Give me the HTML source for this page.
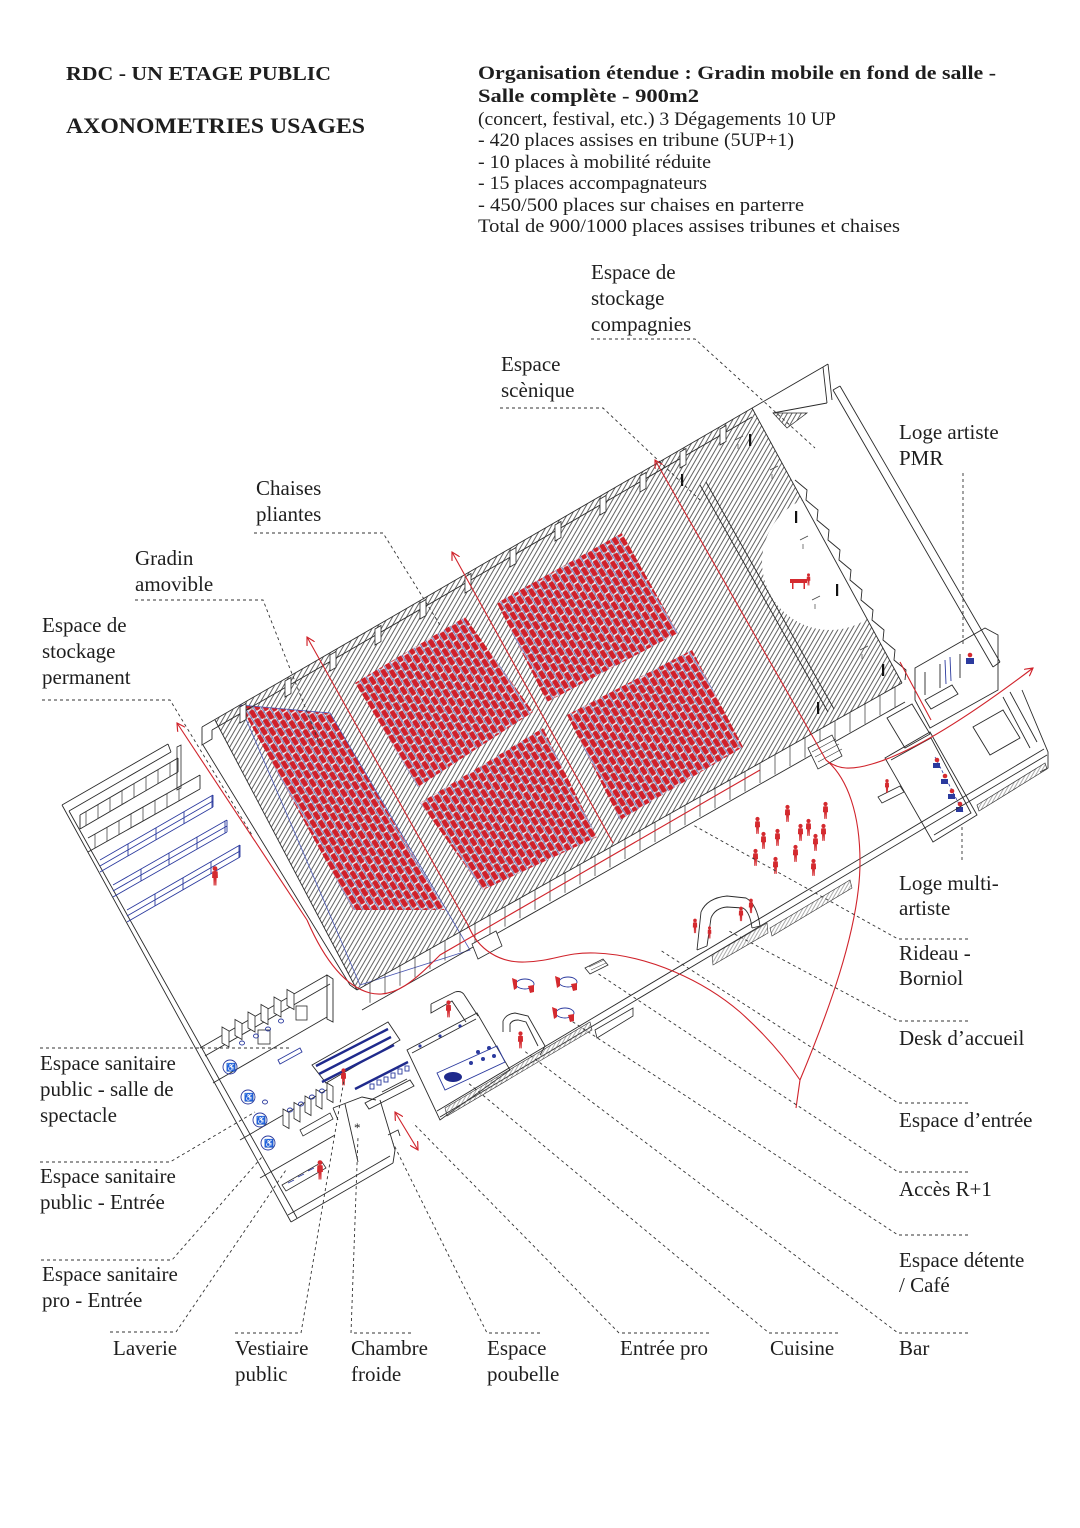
<!DOCTYPE html>
<html><head><meta charset="utf-8"><title>RDC - Axonometries usages</title>
<style>
html,body{margin:0;padding:0;background:#fff;width:1080px;height:1528px;overflow:hidden}
svg{display:block}
text{font-family:"Liberation Serif","DejaVu Serif",serif;fill:#1e1e1e}
.lb{font-size:21px}
.hd{font-size:18.5px}
.hb{font-size:19px;font-weight:bold}
.w{fill:none;stroke:#2a2a2a;stroke-width:0.9}
.wt{fill:#fff;stroke:#2a2a2a;stroke-width:0.8}
.ld{fill:none;stroke:#333;stroke-width:0.9;stroke-dasharray:3 3}
.rd{fill:none;stroke:#d0232b;stroke-width:1.1}
.bl{fill:none;stroke:#2b3a9e;stroke-width:0.9}
.bk{fill:none;stroke:#1f2a8c;stroke-width:2.4}
</style></head><body>
<svg width="1080" height="1528" viewBox="0 0 1080 1528" xmlns="http://www.w3.org/2000/svg">
<defs>
 <pattern id="hatch" width="4" height="10" patternUnits="userSpaceOnUse" patternTransform="rotate(30)">
  <line x1="0.5" y1="0" x2="0.5" y2="10" stroke="#2e2e2e" stroke-width="0.75"/>
 </pattern>
 <pattern id="seat" width="10" height="14" patternUnits="userSpaceOnUse" patternTransform="rotate(58)">
  <rect x="0" y="0" width="10" height="14" fill="#e8eaf4" fill-opacity="0.45"/>
  <rect x="0.3" y="0.3" width="8.6" height="4.9" rx="1.3" fill="#d0202a"/>
  <rect x="5.3" y="7.3" width="8.6" height="4.9" rx="1.3" fill="#d0202a"/>
  <rect x="-4.7" y="7.3" width="8.6" height="4.9" rx="1.3" fill="#d0202a"/>
  <line x1="0" y1="6.2" x2="10" y2="6.2" stroke="#5863b5" stroke-width="0.8"/>
  <line x1="0" y1="13.2" x2="10" y2="13.2" stroke="#5863b5" stroke-width="0.8"/>
 </pattern>
 <pattern id="glass" width="3" height="6" patternUnits="userSpaceOnUse" patternTransform="rotate(30)">
  <line x1="0.5" y1="0" x2="0.5" y2="6" stroke="#777" stroke-width="0.6"/>
 </pattern>
 <clipPath id="hallclip"><polygon points="215,720 752,408 902,683 357,990"/></clipPath>
 <symbol id="pp" viewBox="0 0 8 20">
  <circle cx="4" cy="2.6" r="2.4" fill="#d42a2f"/>
  <path d="M1.3,5.5 Q4,4.6 6.7,5.5 L6.9,12 L5.6,12 L5.4,19.5 L4.3,19.5 L4,13 L3.7,19.5 L2.6,19.5 L2.4,12 L1.1,12 Z" fill="#d42a2f"/>
 </symbol>
 <marker id="ah" viewBox="0 0 10 10" refX="9" refY="5" markerWidth="9" markerHeight="9" markerUnits="userSpaceOnUse" orient="auto">
  <path d="M0,0 L9,5 L0,10" fill="none" stroke="#d0232b" stroke-width="1.3"/>
 </marker>
 <marker id="ah2" viewBox="0 0 10 10" refX="9" refY="5" markerWidth="9" markerHeight="9" markerUnits="userSpaceOnUse" orient="auto-start-reverse">
  <path d="M0,0 L9,5 L0,10" fill="none" stroke="#d0232b" stroke-width="1.3"/>
 </marker>
</defs>

<rect width="1080" height="1528" fill="#fff"/>

<!-- ============ HEADER TEXT ============ -->
<text x="66" y="80" font-size="20" font-weight="bold" textLength="265" lengthAdjust="spacingAndGlyphs">RDC - UN ETAGE PUBLIC</text>
<text x="66" y="133" font-size="22" font-weight="bold" textLength="299" lengthAdjust="spacingAndGlyphs">AXONOMETRIES USAGES</text>
<text x="478" y="79" class="hb" textLength="518" lengthAdjust="spacingAndGlyphs">Organisation étendue : Gradin mobile en fond de salle -</text>
<text x="478" y="102" class="hb" textLength="221" lengthAdjust="spacingAndGlyphs">Salle complète - 900m2</text>
<text x="478" y="125" class="hd" textLength="358" lengthAdjust="spacingAndGlyphs">(concert, festival, etc.) 3 Dégagements 10 UP</text>
<text x="478" y="146" class="hd" textLength="316" lengthAdjust="spacingAndGlyphs">- 420 places assises en tribune (5UP+1)</text>
<text x="478" y="168" class="hd" textLength="233" lengthAdjust="spacingAndGlyphs">- 10 places à mobilité réduite</text>
<text x="478" y="189" class="hd" textLength="229" lengthAdjust="spacingAndGlyphs">- 15 places accompagnateurs</text>
<text x="478" y="211" class="hd" textLength="326" lengthAdjust="spacingAndGlyphs">- 450/500 places sur chaises en parterre</text>
<text x="478" y="232" class="hd" textLength="422" lengthAdjust="spacingAndGlyphs">Total de 900/1000 places assises tribunes et chaises</text>

<!-- ============ HALL FLOOR (hatched) ============ -->
<polygon points="215,720 752,408 902,683 357,990" fill="url(#hatch)"/>
<circle cx="830" cy="562" r="68" fill="#fff" clip-path="url(#hallclip)"/>
<polygon points="773,413 807,413 787,428" fill="url(#hatch)" stroke="#2a2a2a" stroke-width="0.7"/>

<!-- seating blocks -->
<polygon points="240,705 330,713 445,910 353,910" fill="url(#seat)"/>
<polygon points="240,705 330,713 470,950 360,985" fill="none" stroke="#4b58b3" stroke-width="0.8"/>
<polygon points="355,683 465,617 533,712 418,787" fill="url(#seat)"/>
<polygon points="497,603 622,533 678,633 547,702" fill="url(#seat)"/>
<polygon points="420,803 543,728 597,837 483,890" fill="url(#seat)"/>
<polygon points="567,715 692,650 743,747 620,820" fill="url(#seat)"/>

<!-- ============ WALLS : HALL ============ -->
<path class="w" d="M202,727 L823,367 M212,730 L752,417 M202,727 L202,745 L212,739 L212,730"/>
<g class="wt">
 <path d="M240,707 v16 l6,-3.5 v-16 z"/>
 <path d="M285,681 v16 l6,-3.5 v-16 z"/>
 <path d="M330,655 v16 l6,-3.5 v-16 z"/>
 <path d="M375,629 v16 l6,-3.5 v-16 z"/>
 <path d="M420,603 v16 l6,-3.5 v-16 z"/>
 <path d="M465,577 v16 l6,-3.5 v-16 z"/>
 <path d="M510,551 v16 l6,-3.5 v-16 z"/>
 <path d="M555,525 v16 l6,-3.5 v-16 z"/>
 <path d="M600,499 v16 l6,-3.5 v-16 z"/>
 <path d="M640,476 v16 l6,-3.5 v-16 z"/>
 <path d="M680,452 v16 l6,-3.5 v-16 z"/>
 <path d="M720,429 v16 l6,-3.5 v-16 z"/>
</g>
<path class="w" d="M215,720 L357,990 M203,745 L350,985 M350,985 L357,990"/>
<path class="w" d="M357,990 L902,683 M362,1010 L905,702"/>
<path d="M370,982.7 v20 m15,-28.45 v20 m15,-28.45 v20 m15,-28.45 v20 m15,-28.45 v20 m15,-28.45 v20 m15,-28.45 v20 m15,-28.45 v20 m15,-28.45 v20 m15,-28.45 v20 m15,-28.45 v20 m15,-28.45 v20 m15,-28.45 v20 m15,-28.45 v20 m15,-28.45 v20 m15,-28.45 v20 m15,-28.45 v20 m15,-28.45 v20 m15,-28.45 v20 m15,-28.45 v20 m15,-28.45 v20 m15,-28.45 v20 m15,-28.45 v20 m15,-28.45 v20 m15,-28.45 v20 m15,-28.45 v20 m15,-28.45 v20 m15,-28.45 v20 m15,-28.45 v20 m15,-28.45 v20 m15,-28.45 v20 m15,-28.45 v20 m15,-28.45 v20 m15,-28.45 v20 m15,-28.45 v20 m15,-28.45 v20" fill="none" stroke="#333" stroke-width="0.7"/>
<path class="wt" d="M472,944 L496,931 L502,946 L478,959 Z"/>
<path class="wt" d="M808,748 L832,735 L842,756 L818,769 Z"/>
<path d="M812,752 l24,-13 M815,757 l24,-13 M818,762 l24,-13" stroke="#333" stroke-width="0.6"/>
<path class="w" d="M752,408 L902,683 M700,485 L828,712 M706,482 L834,709"/>
<polyline class="w" points="795,480 807,490 806,500 818,510 817,520 829,530 828,540 840,550 839,560 851,570 850,580 862,590 861,600 873,610 872,620 884,630 883,640 895,650 894,660 906,670 905,680"/>
<g fill="#111">
 <rect x="681" y="474" width="2.2" height="12"/>
 <rect x="749" y="434" width="2.2" height="12"/>
 <rect x="795" y="511" width="2.2" height="12"/>
 <rect x="836" y="584" width="2.2" height="12"/>
 <rect x="882" y="664" width="2.2" height="12"/>
 <rect x="817" y="702" width="2.2" height="12"/>
</g>
<g stroke="#444" stroke-width="0.7" fill="none">
 <path d="M735,440 l8,-4 M738,444 l0,5 M770,470 l8,-4 M772,474 v5 M800,540 l8,-4 M803,544 v5 M812,600 l8,-4 M815,604 v5 M860,650 l8,-4 M862,654 v5"/>
</g>
<path d="M790,579 h17 v4 h-2 v6 h-1.5 v-6 h-10 v6 h-1.5 v-6 h-2 z" fill="#d42a2f"/>
<use href="#pp" x="806" y="573" width="5" height="13"/>

<!-- ============ STORAGE COMPAGNIES / BACKSTAGE ============ -->
<path class="w" d="M823,367 L827,403 M828,364 L832,400 M823,367 L828,364 M773,413 L827,403"/>
<path class="w" d="M833,390 L993,667 M840,386 L1000,662 M833,390 L840,386 M993,667 L1000,662"/>
<path class="w" d="M915,668 L985,628 L998,635 L998,690 L930,728 L915,700 Z M925,672 L925,695 M940,664 L940,688 M960,654 L960,678"/>
<path class="bl" d="M945,660 L946,684 M950,657 L951,681"/>
<circle cx="970" cy="655" r="2.3" fill="#d42a2f"/>
<path d="M966,658 h8 v6 h-8 z" fill="#2b3a9e"/>
<path class="w" d="M887,718 L912,704 L930,734 L905,748 Z M925,700 L952,685 L958,694 L931,709 Z M973,727 L1003,710 L1020,738 L990,755 Z"/>
<path class="w" d="M1003,697 L1030,748 M1010,692 L1037,742 M1022,690 L1048,752 L1048,768 L1040,772"/>
<path d="M977,805 L1045,763 L1047,769 L979,811 Z" fill="url(#glass)" stroke="#333" stroke-width="0.7"/>
<path class="w" d="M885,758 L930,732 L977,815 L933,842 Z M891,760 L931,738 L971,813 L934,835"/>
<path d="M935,757 L963,812" fill="none" stroke="#2b3a9e" stroke-width="0.8" stroke-dasharray="3 2"/>
<g>
 <circle cx="937" cy="760" r="2.3" fill="#d42a2f"/><path d="M933,763 h7 v5 h-7z" fill="#2b3a9e"/>
 <circle cx="945" cy="776" r="2.3" fill="#d42a2f"/><path d="M941,779 h7 v5 h-7z" fill="#2b3a9e"/>
 <circle cx="952" cy="791" r="2.3" fill="#d42a2f"/><path d="M948,794 h7 v5 h-7z" fill="#2b3a9e"/>
 <circle cx="960" cy="804" r="2.3" fill="#d42a2f"/><path d="M956,807 h7 v5 h-7z" fill="#2b3a9e"/>
</g>
<path class="wt" d="M878,797 L900,786 L904,792 L882,803 Z"/>
<use href="#pp" x="884" y="779" width="6" height="14"/>

<!-- ============ STORAGE PERMANENT ============ -->
<path class="w" d="M62,805 L168,744 M69,811 L171,752 M168,744 L171,752 M62,805 L291,1222 M69,811 L297,1218"/>
<path class="wt" d="M177,747 L181,745 L181,788 L177,790 Z"/>
<path class="w" d="M80,815 L178,758 M80,829 L178,772 M178,758 L178,772 M80,815 L80,829"/>
<path d="M86,811.5 v14 m12,-20.98 v14 m12,-20.98 v14 m12,-20.98 v14 m12,-20.98 v14 m12,-20.98 v14 m12,-20.98 v14 m12,-20.98 v14" fill="none" stroke="#333" stroke-width="0.7"/>
<path class="w" d="M88,838 L200,775 M88,852 L200,789 M200,775 L200,789"/>
<path d="M95,834.1 v14 m12,-20.75 v14 m12,-20.75 v14 m12,-20.75 v14 m12,-20.75 v14 m12,-20.75 v14 m12,-20.75 v14 m12,-20.75 v14" fill="none" stroke="#333" stroke-width="0.7"/>
<path class="bl" d="M100,860 L213,795 M100,872 L213,807 M100,866 L213,801 M213,795 L213,807"/>
<path class="bl" d="M128,843.9 v12 m28,-28.1 v12 m28,-28.1 v12 m28,-28.1 v12"/>
<path class="bl" d="M113,885 L227,820 M113,897 L227,832 M113,891 L227,826 M227,820 L227,832"/>
<path class="bl" d="M141,868.9 v12 m28,-28.1 v12 m28,-28.1 v12 m28,-28.1 v12"/>
<path class="bl" d="M127,910 L240,845 M127,922 L240,857 M127,916 L240,851 M240,845 L240,857"/>
<path class="bl" d="M155,893.9 v12 m28,-28.1 v12 m28,-28.1 v12 m28,-28.1 v12"/>
<use href="#pp" x="211" y="866" width="8" height="20"/>

<!-- ============ SERVICE BLOCK ============ -->
<path class="w" d="M200,1048 L327,975 M205,1056 L330,984 M327,975 L333,979 L333,1022 L327,1019 Z"/>
<g class="wt">
 <path d="M222,1043 v-16 l7,4 v16 z"/>
 <path d="M235,1035.5 v-16 l7,4 v16 z"/>
 <path d="M248,1028 v-16 l7,4 v16 z"/>
 <path d="M261,1020.5 v-16 l7,4 v16 z"/>
 <path d="M274,1013 v-16 l7,4 v16 z"/>
 <path d="M287,1005.5 v-16 l7,4 v16 z"/>
 <rect x="296" y="1006" width="11" height="14"/>
 <rect x="258" y="1030" width="12" height="14"/>
</g>
<path class="w" d="M213,1083 L327,1017 M240,1140 L330,1088 M260,1178 L335,1135 M291,1222 L393,1163 M288,1215 L390,1156"/>
<path class="bl" d="M278,1060 L300,1048 L302,1052 L280,1064 Z"/>
<g class="wt">
 <path d="M283,1125 v-16 l6,3.5 v16 z"/>
 <path d="M294,1118.5 v-16 l6,3.5 v16 z"/>
 <path d="M305,1112 v-16 l6,3.5 v16 z"/>
 <path d="M316,1105.5 v-16 l6,3.5 v16 z"/>
 <path d="M327,1099 v-16 l6,3.5 v16 z"/>
 <path d="M300,1130 L330,1113 L333,1119 L303,1136 Z"/>
</g>
<g fill="none" stroke="#2b3a9e" stroke-width="0.9">
 <circle cx="230" cy="1067" r="7"/>
 <circle cx="248" cy="1097" r="7"/>
 <circle cx="260" cy="1120" r="7"/>
 <circle cx="268" cy="1143" r="7"/>
 <ellipse cx="242" cy="1043" rx="2.5" ry="2"/>
 <ellipse cx="256" cy="1036" rx="2.5" ry="2"/>
 <ellipse cx="268" cy="1029" rx="2.5" ry="2"/>
 <ellipse cx="281" cy="1021" rx="2.5" ry="2"/>
 <ellipse cx="290" cy="1110" rx="2.5" ry="2"/>
 <ellipse cx="301" cy="1104" rx="2.5" ry="2"/>
 <ellipse cx="312" cy="1097" rx="2.5" ry="2"/>
 <ellipse cx="322" cy="1091" rx="2.5" ry="2"/>
 <ellipse cx="265" cy="1102" rx="2.5" ry="2"/>
</g>
<g font-family="DejaVu Sans" font-size="8" fill="#2b3a9e">
 <text x="226" y="1070">♿</text><text x="244" y="1100">♿</text><text x="256" y="1123">♿</text><text x="264" y="1146">♿</text>
</g>
<path class="wt" d="M282,1185 L322,1162 L326,1168 L286,1191 Z"/>
<path class="bl" d="M288,1183 l6,-3 M298,1177 l6,-3 M308,1171 l6,-3"/>
<use href="#pp" x="316" y="1160" width="8" height="20"/>
<path class="w" d="M312,1065 L388,1022 L400,1040 L326,1083 Z"/>
<path class="bk" d="M316,1066 L388,1029 M319,1074 L391,1037 M322,1082 L394,1045 M355,1089 L408,1062"/>
<use href="#pp" x="340" y="1068" width="7" height="18"/>
<g class="bl">
 <rect x="370" y="1084" width="4" height="5"/><rect x="377" y="1080" width="4" height="5"/><rect x="384" y="1077" width="4" height="5"/>
 <rect x="391" y="1073" width="4" height="5"/><rect x="398" y="1069" width="4" height="5"/><rect x="405" y="1066" width="4" height="5"/>
</g>
<path class="w" d="M333,1108 L362,1097 L376,1100 M333,1108 L338,1120 M345,1104 L358,1162 M380,1100 L395,1150 L393,1163 M382,1092 L407,1079 M388,1135 L398,1130 L400,1136"/>
<text x="354" y="1132" font-size="13" fill="#2b3a9e" font-family="DejaVu Sans">*</text>
<path class="w" d="M365,1103 L410,1080 L414,1086 L369,1109 Z"/>
<path class="w" d="M407,1050 L477,1013 L510,1070 L440,1120 Z M412,1053 L476,1019"/>
<path class="bl" d="M437,1073 L497,1046 L505,1062 L445,1090 Z"/>
<ellipse cx="453" cy="1077" rx="9" ry="5" fill="#1f2a8c"/>
<g fill="#2b3a9e">
 <circle cx="478" cy="1052" r="2"/><circle cx="489" cy="1048" r="2"/><circle cx="483" cy="1059" r="2"/><circle cx="494" cy="1056" r="2"/><circle cx="471" cy="1063" r="2"/>
 <circle cx="420" cy="1046" r="1.6"/><circle cx="440" cy="1036" r="1.6"/><circle cx="460" cy="1026" r="1.6"/>
</g>
<path class="w" d="M431,1004 L455,992 Q462,990 465,996 L478,1016 M431,1004 L431,1013 L452,1001 L466,1022"/>
<use href="#pp" x="445" y="1000" width="7" height="18"/>
<path class="w" d="M503,1032 L503,1021 Q506,1014 515,1013 L528,1016 L545,1046 L540,1055 M510,1032 L510,1024 Q512,1020 518,1020 L526,1022 L538,1046"/>
<use href="#pp" x="517" y="1031" width="7" height="18"/>

<!-- ============ FOYER ============ -->
<path class="w" d="M440,1117 L1047,755 M437,1111 L1044,749"/>
<path d="M445,1108 L590,1022 L592,1030 L447,1116 Z" fill="url(#glass)" stroke="#333" stroke-width="0.6"/>
<path class="wt" d="M595,1030 L633,1008 L633,1016 L597,1038 Z"/>
<path d="M712,955 L767,923 L768,933 L713,965 Z" fill="url(#glass)" stroke="#333" stroke-width="0.6"/>
<path d="M770,928 L850,880 L852,888 L772,936 Z" fill="url(#glass)" stroke="#333" stroke-width="0.6"/>
<path class="w" d="M697,950 L701,912 Q707,898 727,896 L746,898 Q757,904 760,926 M707,946 L711,918 Q715,908 727,907 L743,908 Q750,912 752,928 M697,950 L707,946 M760,926 L752,928"/>
<use href="#pp" x="692" y="918" width="6" height="16"/>
<use href="#pp" x="748" y="898" width="6" height="16"/>
<use href="#pp" x="738" y="906" width="6" height="16"/>
<use href="#pp" x="707" y="926" width="5" height="13"/>
<path class="wt" d="M585,968 L603,959 L608,965 L590,974 Z"/>
<path d="M589,967 l15,-7 M591,970 l15,-7" stroke="#333" stroke-width="0.5"/>
<g>
 <ellipse cx="525" cy="984" rx="9" ry="5" fill="none" stroke="#2b3a9e" stroke-width="0.9"/>
 <path d="M512,978 l5,2 v8 l-3,2 z M528,986 l6,-1 v7 l-4,1 z" fill="#d42a2f"/>
 <ellipse cx="568" cy="982" rx="9" ry="5" fill="none" stroke="#2b3a9e" stroke-width="0.9"/>
 <path d="M555,976 l5,2 v8 l-3,2 z M571,984 l6,-1 v7 l-4,1 z" fill="#d42a2f"/>
 <ellipse cx="565" cy="1013" rx="9" ry="5" fill="none" stroke="#2b3a9e" stroke-width="0.9"/>
 <path d="M552,1007 l5,2 v8 l-3,2 z M568,1015 l6,-1 v7 l-4,1 z" fill="#d42a2f"/>
</g>
<g>
 <use href="#pp" x="754" y="816" width="7" height="19"/>
 <use href="#pp" x="760" y="831" width="7" height="19"/>
 <use href="#pp" x="774" y="828" width="7" height="19"/>
 <use href="#pp" x="784" y="804" width="7" height="19"/>
 <use href="#pp" x="797" y="823" width="7" height="19"/>
 <use href="#pp" x="805" y="818" width="7" height="19"/>
 <use href="#pp" x="812" y="833" width="7" height="19"/>
 <use href="#pp" x="820" y="823" width="7" height="19"/>
 <use href="#pp" x="822" y="801" width="7" height="19"/>
 <use href="#pp" x="752" y="848" width="7" height="19"/>
 <use href="#pp" x="772" y="856" width="7" height="19"/>
 <use href="#pp" x="792" y="844" width="7" height="19"/>
 <use href="#pp" x="810" y="858" width="7" height="19"/>
</g>

<!-- ============ RED PATHS ============ -->
<g class="rd">
 <path d="M468,925 L307,637" marker-end="url(#ah)"/>
 <path d="M468,925 C478,950 500,963 525,962 C555,961 565,952 595,953 C650,955 705,982 740,1012 C768,1037 788,1062 800,1080 L796,1108"/>
 <path d="M613,843 L452,552" marker-end="url(#ah)"/>
 <path d="M307,920 L177,723" marker-end="url(#ah)"/>
 <path d="M307,920 C320,950 340,985 370,993 C395,999 415,980 440,955 L760,770"/>
 <path d="M826,760 L655,460" marker-end="url(#ah)"/>
 <path d="M826,760 C848,778 860,815 860,862 C860,930 825,1020 800,1080"/>
 <path d="M826,760 C838,770 852,770 872,764 C915,752 975,712 1033,668" marker-end="url(#ah)"/>
 <path d="M900,662 L931,720"/>
 <path d="M395,1112 L418,1150" marker-start="url(#ah2)" marker-end="url(#ah2)"/>
</g>

<!-- ============ LEADERS ============ -->
<g class="ld">
 <path d="M591,339 L695,339 L815,448"/>
 <path d="M500,408 L603,408 L700,500"/>
 <path d="M963,473 L963,645"/>
 <path d="M254,533 L383,533 L440,625"/>
 <path d="M135,600 L263,600 L320,745"/>
 <path d="M42,700 L170,700 L252,835"/>
 <path d="M962,827 L962,860"/>
 <path d="M968,939 L898,939 L693,825"/>
 <path d="M968,1021 L898,1021 L727,930"/>
 <path d="M968,1103 L898,1103 L660,950"/>
 <path d="M968,1172 L898,1172 L597,973"/>
 <path d="M968,1235 L898,1235 L570,1020"/>
 <path d="M968,1333 L898,1333 L523,1050"/>
 <path d="M838,1333 L769,1333 L467,1082"/>
 <path d="M709,1333 L619,1333 L413,1123"/>
 <path d="M540,1333 L487,1333 L393,1143"/>
 <path d="M411,1333 L351,1333 L358,1137"/>
 <path d="M235,1333 L301,1333 L344,1080"/>
 <path d="M110,1332 L176,1332 L286,1170"/>
 <path d="M41,1260 L172,1260 L262,1157"/>
 <path d="M40,1162 L170,1162 L255,1112"/>
 <path d="M40,1048 L290,1048"/>
</g>

<!-- ============ LABELS ============ -->
<g class="lb">
 <text x="591" y="279">Espace de</text>
 <text x="591" y="305">stockage</text>
 <text x="591" y="331">compagnies</text>
 <text x="501" y="371">Espace</text>
 <text x="501" y="397">scènique</text>
 <text x="899" y="439">Loge artiste</text>
 <text x="899" y="465">PMR</text>
 <text x="256" y="495">Chaises</text>
 <text x="256" y="521">pliantes</text>
 <text x="135" y="565">Gradin</text>
 <text x="135" y="591">amovible</text>
 <text x="42" y="632">Espace de</text>
 <text x="42" y="658">stockage</text>
 <text x="42" y="684">permanent</text>
 <text x="899" y="890">Loge multi-</text>
 <text x="899" y="915">artiste</text>
 <text x="899" y="960">Rideau -</text>
 <text x="899" y="985">Borniol</text>
 <text x="899" y="1045">Desk d’accueil</text>
 <text x="40" y="1070">Espace sanitaire</text>
 <text x="40" y="1096">public - salle de</text>
 <text x="40" y="1122">spectacle</text>
 <text x="899" y="1127">Espace d’entrée</text>
 <text x="40" y="1183">Espace sanitaire</text>
 <text x="40" y="1209">public - Entrée</text>
 <text x="899" y="1196">Accès R+1</text>
 <text x="899" y="1267">Espace détente</text>
 <text x="899" y="1292">/ Café</text>
 <text x="42" y="1281">Espace sanitaire</text>
 <text x="42" y="1307">pro - Entrée</text>
 <text x="113" y="1355">Laverie</text>
 <text x="235" y="1355">Vestiaire</text>
 <text x="235" y="1381">public</text>
 <text x="351" y="1355">Chambre</text>
 <text x="351" y="1381">froide</text>
 <text x="487" y="1355">Espace</text>
 <text x="487" y="1381">poubelle</text>
 <text x="620" y="1355">Entrée pro</text>
 <text x="770" y="1355">Cuisine</text>
 <text x="899" y="1355">Bar</text>
</g>
</svg>
</body></html>
